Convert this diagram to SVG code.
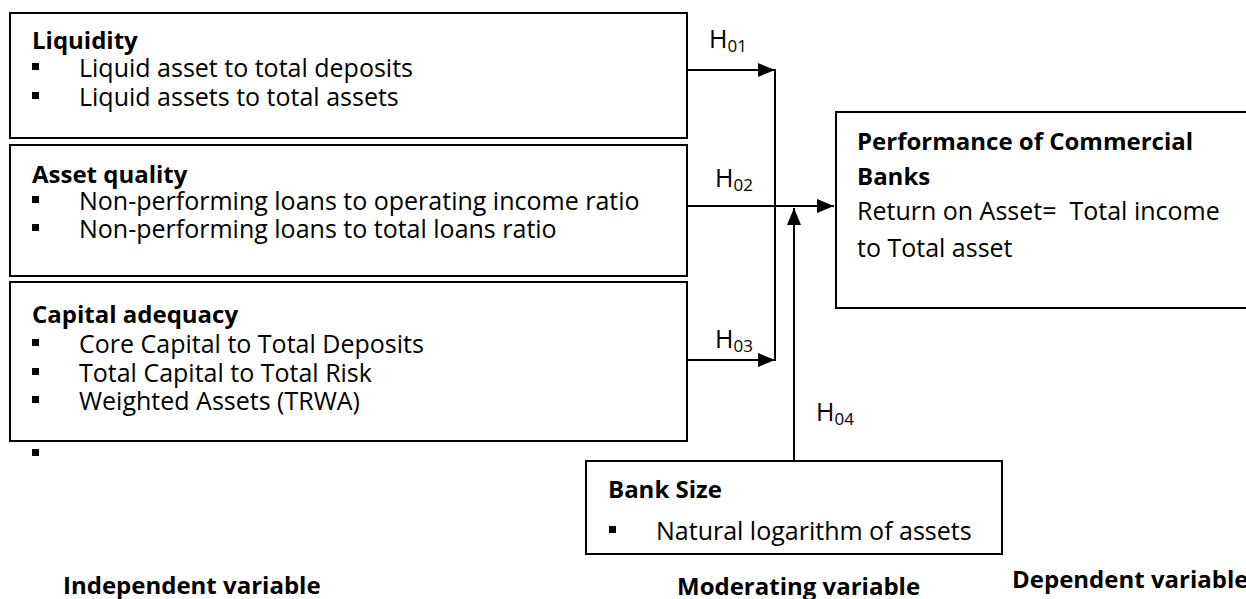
<svg xmlns="http://www.w3.org/2000/svg" width="1246" height="599" viewBox="0 0 1246 599">
<style>
  .box { fill: #fff; stroke: #000; stroke-width: 2; }
  .t { font-family: "Open Sans", "Noto Sans", "Liberation Sans", sans-serif; font-size: 25px; fill: #000; }
  .b { font-weight: bold; font-size: 24px; }
  .sub { font-size: 17px; }
  .con { stroke: #000; stroke-width: 2; fill: none; }
  .bul { fill: #000; }
</style>
<defs>
  <marker id="arrow" markerUnits="userSpaceOnUse" markerWidth="17" markerHeight="14" refX="17" refY="7" orient="auto">
    <path d="M0,0 L17,7 L0,14 Z" fill="#000"/>
  </marker>
  <clipPath id="bankclip"><rect x="586" y="461" width="416" height="86"/></clipPath>
</defs>
<rect width="1246" height="599" fill="#fff"/>

<g id="node-liquidity">
  <rect class="box" x="10" y="13" width="677" height="125"/>
  <text class="t b" x="32" y="49">Liquidity</text>
  <rect class="bul" x="32" y="63" width="7" height="7"/>
  <text class="t" x="79" y="77">Liquid asset to total deposits</text>
  <rect class="bul" x="32" y="92" width="7" height="7"/>
  <text class="t" x="79" y="106">Liquid assets to total assets</text>
</g>

<g id="node-asset-quality">
  <rect class="box" x="10" y="145" width="677" height="131"/>
  <text class="t b" x="32" y="183">Asset quality</text>
  <rect class="bul" x="32" y="196" width="7" height="7"/>
  <text class="t" x="79" y="210">Non-performing loans to operating income ratio</text>
  <rect class="bul" x="32" y="224" width="7" height="7"/>
  <text class="t" x="79" y="238">Non-performing loans to total loans ratio</text>
</g>

<g id="node-capital-adequacy">
  <rect class="box" x="10" y="282" width="677" height="159"/>
  <text class="t b" x="32" y="323">Capital adequacy</text>
  <rect class="bul" x="32" y="339" width="7" height="7"/>
  <text class="t" x="79" y="353">Core Capital to Total Deposits</text>
  <rect class="bul" x="32" y="368" width="7" height="7"/>
  <text class="t" x="79" y="382">Total Capital to Total Risk</text>
  <rect class="bul" x="32" y="396" width="7" height="7"/>
  <text class="t" x="79" y="410">Weighted Assets (TRWA)</text>
  <rect class="bul" x="32" y="449" width="7" height="7"/>
</g>

<g id="node-performance">
  <rect class="box" x="836" y="112" width="430" height="196"/>
  <text class="t b" x="857" y="150">Performance of Commercial</text>
  <text class="t b" x="857" y="185">Banks</text>
  <text class="t" x="857" y="220" xml:space="preserve">Return on Asset=  Total income</text>
  <text class="t" x="857" y="257">to Total asset</text>
</g>

<g id="node-bank-size">
  <rect class="box" x="586" y="461" width="416" height="93"/>
  <text class="t b" x="608" y="498">Bank Size</text>
  <rect class="bul" x="609" y="526" width="7" height="7"/>
  <text class="t" x="656" y="540" clip-path="url(#bankclip)">Natural logarithm of assets</text>
</g>

<g id="connectors">
  <line class="con" x1="687" y1="70" x2="775" y2="70" marker-end="url(#arrow)"/>
  <line class="con" x1="687" y1="360" x2="775" y2="360" marker-end="url(#arrow)"/>
  <line class="con" x1="775" y1="69" x2="775" y2="361"/>
  <line class="con" x1="687" y1="206" x2="834" y2="206" marker-end="url(#arrow)"/>
  <line class="con" x1="794" y1="461" x2="794" y2="208" marker-end="url(#arrow)"/>
</g>

<g id="labels">
  <text class="t" x="709" y="48">H<tspan class="sub" dy="4">01</tspan></text>
  <text class="t" x="715" y="187">H<tspan class="sub" dy="4">02</tspan></text>
  <text class="t" x="715" y="348">H<tspan class="sub" dy="4">03</tspan></text>
  <text class="t" x="816" y="421">H<tspan class="sub" dy="4">04</tspan></text>
  <text class="t b" x="63" y="594">Independent variable</text>
  <text class="t b" x="677" y="595">Moderating variable</text>
  <text class="t b" x="1012" y="588">Dependent variable</text>
</g>
</svg>
